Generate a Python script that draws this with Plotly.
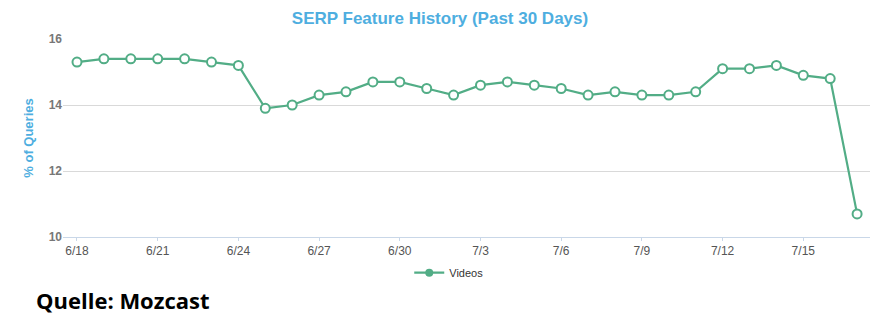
import plotly.graph_objects as go

dates = ["6/18", "6/19", "6/20", "6/21", "6/22", "6/23", "6/24", "6/25", "6/26", "6/27",
         "6/28", "6/29", "6/30", "7/1", "7/2", "7/3", "7/4", "7/5", "7/6", "7/7",
         "7/8", "7/9", "7/10", "7/11", "7/12", "7/13", "7/14", "7/15", "7/16", "7/17"]
videos = [15.3, 15.4, 15.4, 15.4, 15.4, 15.3, 15.2, 13.9, 14.0, 14.3,
          14.4, 14.7, 14.7, 14.5, 14.3, 14.6, 14.7, 14.6, 14.5, 14.3,
          14.4, 14.3, 14.3, 14.4, 15.1, 15.1, 15.2, 14.9, 14.8, 10.7]
tick_labels = ["6/18", "6/21", "6/24", "6/27", "6/30", "7/3", "7/6", "7/9", "7/12", "7/15"]
y_ticks = [10, 12, 14, 16]

GREEN = "#52ad86"
BLUE = "#4eaee0"

fig = go.Figure()
fig.add_trace(go.Scatter(
    x=dates, y=videos, mode="lines+markers", showlegend=False,
    line=dict(color=GREEN, width=2.2),
    marker=dict(symbol="circle", size=9, color="white", line=dict(color=GREEN, width=2)),
))
fig.add_trace(go.Scatter(
    x=[None], y=[None], mode="lines+markers", name="Videos",
    line=dict(color=GREEN, width=2.2),
    marker=dict(symbol="circle", size=8, color=GREEN),
))

fig.update_layout(
    width=880, height=332,
    margin=dict(l=63, r=10, t=39, b=95),
    paper_bgcolor="white", plot_bgcolor="white",
    font=dict(family="Liberation Sans, Arial, sans-serif"),
    title=dict(text="<b>SERP Feature History (Past 30 Days)</b>",
               x=0.5, xanchor="center", y=0.945, yanchor="middle",
               font=dict(size=17, color=BLUE)),
    xaxis=dict(
        type="category", categoryorder="array", categoryarray=dates,
        range=[-0.52, 29.48],
        tickmode="array", tickvals=tick_labels, ticktext=tick_labels,
        showgrid=False, showline=True, linecolor="#c9d7e8", linewidth=1,
        ticks="outside", ticklen=3, tickcolor="#c9d7e8",
        tickfont=dict(size=12, color="#555555"),
        zeroline=False, fixedrange=True,
    ),
    yaxis=dict(
        range=[10, 16], tickvals=y_ticks,
        ticktext=["<b>%d</b>" % v for v in y_ticks],
        showgrid=True, gridcolor="#d9d9d9", gridwidth=1,
        zeroline=False, showline=False,
        tickfont=dict(size=12, color="#777777"),
        title=dict(text="<b>% of Queries</b>", font=dict(size=13, color=BLUE), standoff=12),
    ),
    legend=dict(orientation="h", x=0.478, xanchor="center", y=-0.18, yanchor="middle",
                font=dict(size=11, color="#333333"), itemwidth=30),
    annotations=[dict(
        text="<b>Quelle: Mozcast</b>", xref="paper", yref="paper",
        x=-0.036, y=-0.32, xanchor="left", yanchor="middle", showarrow=False,
        font=dict(size=22, color="#000000", family="Open Sans, Liberation Sans, sans-serif"),
    )],
)

fig.write_html("out.html")
